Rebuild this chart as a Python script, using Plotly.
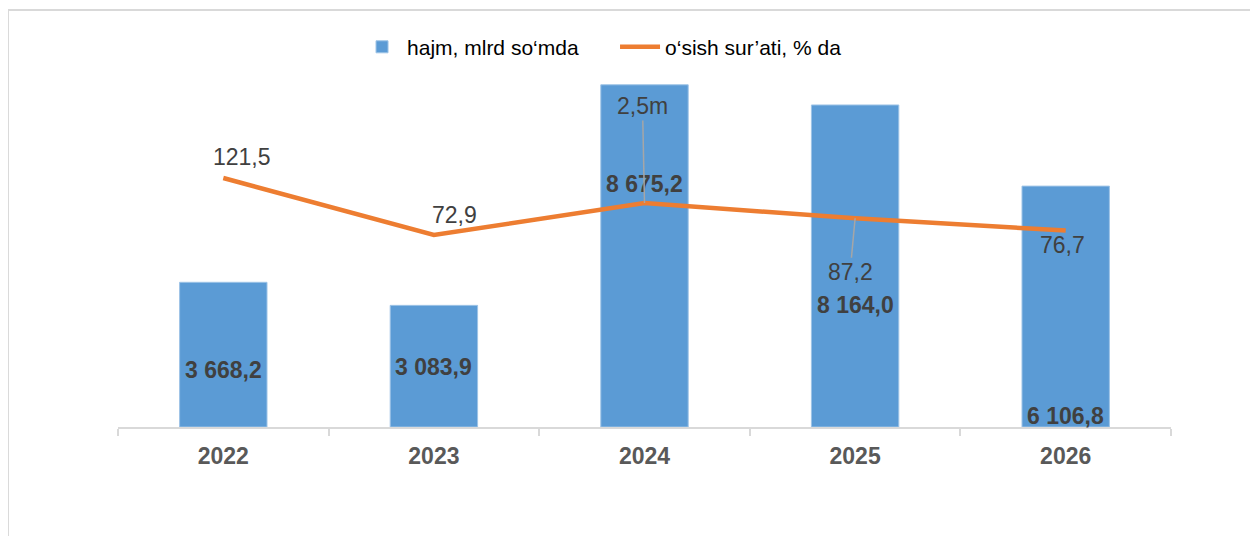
import plotly.graph_objects as go

years = ["2022", "2023", "2024", "2025", "2026"]
volume = [3668.2, 3083.9, 8675.2, 8164.0, 6106.8]
volume_labels = ["3 668,2", "3 083,9", "8 675,2", "8 164,0", "6 106,8"]
growth = [121.5, 72.9, 100.2, 87.2, 76.7]
growth_labels = ["121,5", "72,9", "2,5m", "87,2", "76,7"]

BLUE = "#5B9BD5"
ORANGE = "#ED7D31"
TXT = "#404040"
FONT = "Liberation Sans, Arial, sans-serif"

fig = go.Figure()
fig.add_trace(go.Bar(
    x=years, y=volume, name="hajm, mlrd so‘mda",
    marker=dict(color=BLUE, line=dict(color="#9DC3E6", width=1)),
    width=0.415, hoverinfo="x+y",
))
fig.add_trace(go.Scatter(
    x=years, y=growth, name="o‘sish sur’ati, % da", yaxis="y2",
    mode="lines", line=dict(color=ORANGE, width=4.5),
))

# bar value labels (pixel offsets below bar top)
bar_offsets = [88, 62, 99, 200, 230]
for i, (v, lab, off) in enumerate(zip(volume, volume_labels, bar_offsets)):
    fig.add_annotation(x=i, y=v, xref="x", yref="y", text=lab, showarrow=False,
                       yshift=-off, font=dict(family=FONT, size=23, color=TXT, weight="bold"))

# line value labels
line_styles = [
    dict(showarrow=False, xshift=19, yshift=21),
    dict(showarrow=False, xshift=21, yshift=20),
    dict(showarrow=True, ax=-2, ay=-97),
    dict(showarrow=True, ax=-5, ay=54),
    dict(showarrow=False, xshift=-3, yshift=-14),
]
for i, (v, lab, st) in enumerate(zip(growth, growth_labels, line_styles)):
    kw = dict(x=i, y=v, xref="x", yref="y2", text=lab,
              font=dict(family=FONT, size=23, color=TXT))
    if st.get("showarrow"):
        kw.update(showarrow=True, ax=st["ax"], ay=st["ay"], arrowhead=0,
                  arrowwidth=1.5, arrowcolor="#A6A6A6", standoff=0, startstandoff=0)
    else:
        kw.update(showarrow=False, xshift=st["xshift"], yshift=st["yshift"])
    fig.add_annotation(**kw)

# outer frame
fig.add_shape(type="rect", xref="paper", yref="paper",
              x0=-0.1045, x1=1.0779, y0=-0.33, y1=1.1746,
              line=dict(color="#D9D9D9", width=2), layer="below")

fig.update_layout(
    width=1258, height=536,
    margin=dict(l=110, r=95, t=64, b=117),
    paper_bgcolor="white", plot_bgcolor="white",
    font=dict(family=FONT, color=TXT),
    showlegend=True,
    legend=dict(orientation="h", x=0.227, xanchor="left", y=1.07, yanchor="middle",
                font=dict(family=FONT, size=21, color="#000000"),
                bgcolor="rgba(0,0,0,0)", itemwidth=40,
                entrywidth=203, entrywidthmode="pixels"),
    xaxis=dict(type="category", range=[-0.5, 4.5], showgrid=False,
               showline=True, linecolor="#D9D9D9", linewidth=1.5,
               ticks="outside", tickson="boundaries", ticklen=7, tickcolor="#D9D9D9",
               tickwidth=1.5, ticklabelstandoff=8,
               tickfont=dict(family=FONT, size=23, color="#595959", weight="bold")),
    yaxis=dict(range=[0, 9000], visible=False, showgrid=False, zeroline=False),
    yaxis2=dict(range=[-90.8, 211.9], overlaying="y", side="right",
                visible=False, showgrid=False, zeroline=False),
)

fig.write_html("out.html")
